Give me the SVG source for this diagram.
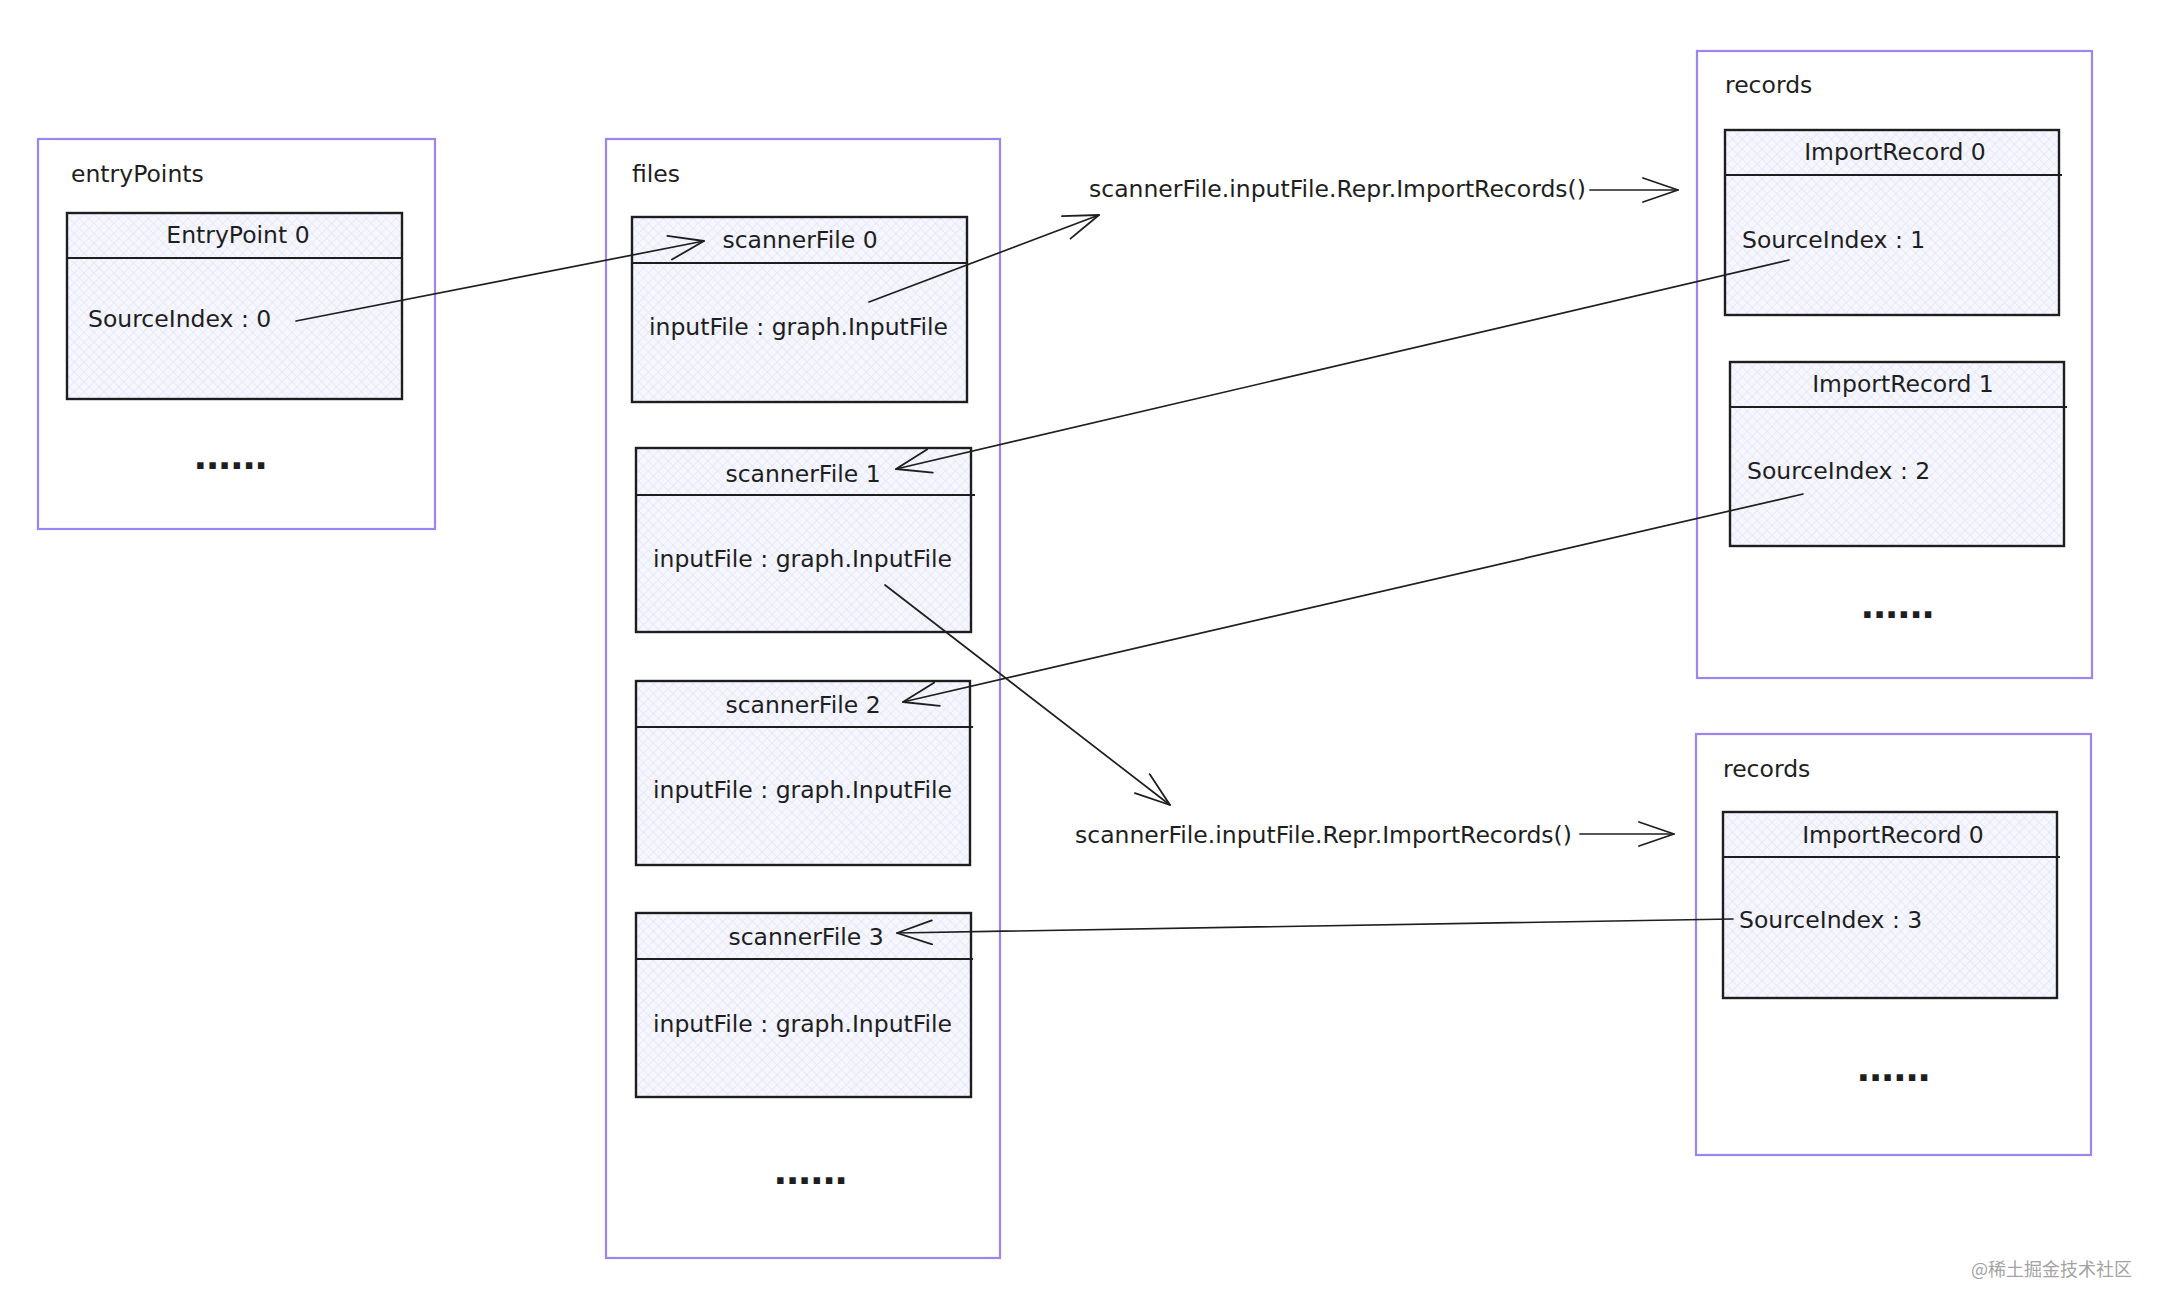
<svg xmlns="http://www.w3.org/2000/svg" width="2164" height="1312" viewBox="0 0 2164 1312">
  <defs>
    <pattern id="hatch" width="7" height="7" patternUnits="userSpaceOnUse" patternTransform="rotate(45)">
      <rect width="7" height="7" fill="#f6f6fe"/>
      <line x1="0" y1="0" x2="0" y2="7" stroke="#dfe2f7" stroke-width="1.2"/>
      <line x1="0" y1="0" x2="7" y2="0" stroke="#dfe2f7" stroke-width="1.2"/>
    </pattern>
    <marker id="arrow" markerUnits="userSpaceOnUse" markerWidth="44" markerHeight="30" refX="36" refY="13" orient="auto">
      <path d="M1,1 L36,13 L1,25" fill="none" stroke="#1e1e1e" stroke-width="1.8" stroke-linecap="round" stroke-linejoin="round"/>
    </marker>
    <style>
      .outer { fill: none; stroke: #9d84ee; stroke-width: 2.2; }
      .box { fill: url(#hatch); stroke: #1e1e1e; stroke-width: 2.4; }
      .div { stroke: #1e1e1e; stroke-width: 2.2; }
      .t { font-family: "DejaVu Sans", "Liberation Sans", sans-serif; font-size: 23.5px; fill: #1e1e1e; }
      .c { text-anchor: middle; }
      .dots { font-family: "DejaVu Sans", sans-serif; font-weight: bold; font-size: 36px; letter-spacing: -1.5px; fill: #1e1e1e; text-anchor: middle; }
      .conn { fill: none; stroke: #1e1e1e; stroke-width: 1.7; stroke-linecap: round; }
      .wm { font-family: "Noto Sans CJK SC", "Noto Sans", sans-serif; font-size: 18px; fill: #a3a3a3; }
    </style>
  </defs>
  <rect width="2164" height="1312" fill="#ffffff"/>

  <!-- entryPoints group -->
  <g id="entryPoints">
    <rect class="outer" x="38" y="139" width="397" height="390"/>
    <text class="t" x="71" y="182">entryPoints</text>
    <text class="dots" x="230" y="469">......</text>
  </g>
  <g id="entryPoint0">
    <rect class="box" x="67" y="213" width="335" height="186"/>
    <line class="div" x1="67" y1="258" x2="402" y2="258"/>
    <text class="t c" x="238" y="243">EntryPoint 0</text>
    <text class="t" x="88" y="327">SourceIndex : 0</text>
  </g>

  <!-- files group -->
  <g id="files">
    <rect class="outer" x="606" y="139" width="394" height="1119"/>
    <text class="t" x="632" y="182">files</text>
    <text class="dots" x="810" y="1184">......</text>
  </g>
  <g id="scannerFile0">
    <rect class="box" x="632" y="217" width="335" height="185"/>
    <line class="div" x1="632" y1="263" x2="967" y2="263"/>
    <text class="t c" x="800" y="248">scannerFile 0</text>
    <text class="t" x="649" y="335">inputFile : graph.InputFile</text>
  </g>
  <g id="scannerFile1">
    <rect class="box" x="636" y="448" width="335" height="184"/>
    <line class="div" x1="636" y1="495" x2="975" y2="495"/>
    <text class="t c" x="803" y="482">scannerFile 1</text>
    <text class="t" x="653" y="567">inputFile : graph.InputFile</text>
  </g>
  <g id="scannerFile2">
    <rect class="box" x="636" y="681" width="334" height="184"/>
    <line class="div" x1="636" y1="727" x2="973" y2="727"/>
    <text class="t c" x="803" y="713">scannerFile 2</text>
    <text class="t" x="653" y="798">inputFile : graph.InputFile</text>
  </g>
  <g id="scannerFile3">
    <rect class="box" x="636" y="913" width="335" height="184"/>
    <line class="div" x1="636" y1="959" x2="973" y2="959"/>
    <text class="t c" x="806" y="945">scannerFile 3</text>
    <text class="t" x="653" y="1032">inputFile : graph.InputFile</text>
  </g>

  <!-- records group (top) -->
  <g id="records1">
    <rect class="outer" x="1697" y="51" width="395" height="627"/>
    <text class="t" x="1725" y="93">records</text>
    <text class="dots" x="1897" y="618">......</text>
  </g>
  <g id="importRecord0a">
    <rect class="box" x="1725" y="130" width="334" height="185"/>
    <line class="div" x1="1725" y1="175" x2="2062" y2="175"/>
    <text class="t c" x="1895" y="160">ImportRecord 0</text>
    <text class="t" x="1742" y="248">SourceIndex : 1</text>
  </g>
  <g id="importRecord1">
    <rect class="box" x="1730" y="362" width="334" height="184"/>
    <line class="div" x1="1730" y1="407" x2="2067" y2="407"/>
    <text class="t c" x="1903" y="392">ImportRecord 1</text>
    <text class="t" x="1747" y="479">SourceIndex : 2</text>
  </g>

  <!-- records group (bottom) -->
  <g id="records2">
    <rect class="outer" x="1696" y="734" width="395" height="421"/>
    <text class="t" x="1723" y="777">records</text>
    <text class="dots" x="1893" y="1081">......</text>
  </g>
  <g id="importRecord0b">
    <rect class="box" x="1723" y="812" width="334" height="186"/>
    <line class="div" x1="1723" y1="857" x2="2060" y2="857"/>
    <text class="t c" x="1893" y="843">ImportRecord 0</text>
    <text class="t" x="1739" y="928">SourceIndex : 3</text>
  </g>

  <!-- edge labels -->
  <g id="label1">
    <text class="t" x="1089" y="197">scannerFile.inputFile.Repr.ImportRecords()</text>
  </g>
  <g id="label2">
    <text class="t" x="1075" y="843">scannerFile.inputFile.Repr.ImportRecords()</text>
  </g>

  <!-- connectors -->
  <g id="connectors">
    <line class="conn" x1="296" y1="321" x2="704" y2="241" marker-end="url(#arrow)"/>
    <line class="conn" x1="869" y1="302" x2="1099" y2="215" marker-end="url(#arrow)"/>
    <line class="conn" x1="1590" y1="190" x2="1678" y2="190" marker-end="url(#arrow)"/>
    <line class="conn" x1="1789" y1="260" x2="896" y2="469" marker-end="url(#arrow)"/>
    <line class="conn" x1="885" y1="585" x2="1170" y2="805" marker-end="url(#arrow)"/>
    <line class="conn" x1="1803" y1="494" x2="903" y2="702" marker-end="url(#arrow)"/>
    <line class="conn" x1="1580" y1="834" x2="1674" y2="834" marker-end="url(#arrow)"/>
    <line class="conn" x1="1733" y1="919" x2="897" y2="933" marker-end="url(#arrow)"/>
  </g>

  <text class="wm" x="1971" y="1276">@稀土掘金技术社区</text>
</svg>
